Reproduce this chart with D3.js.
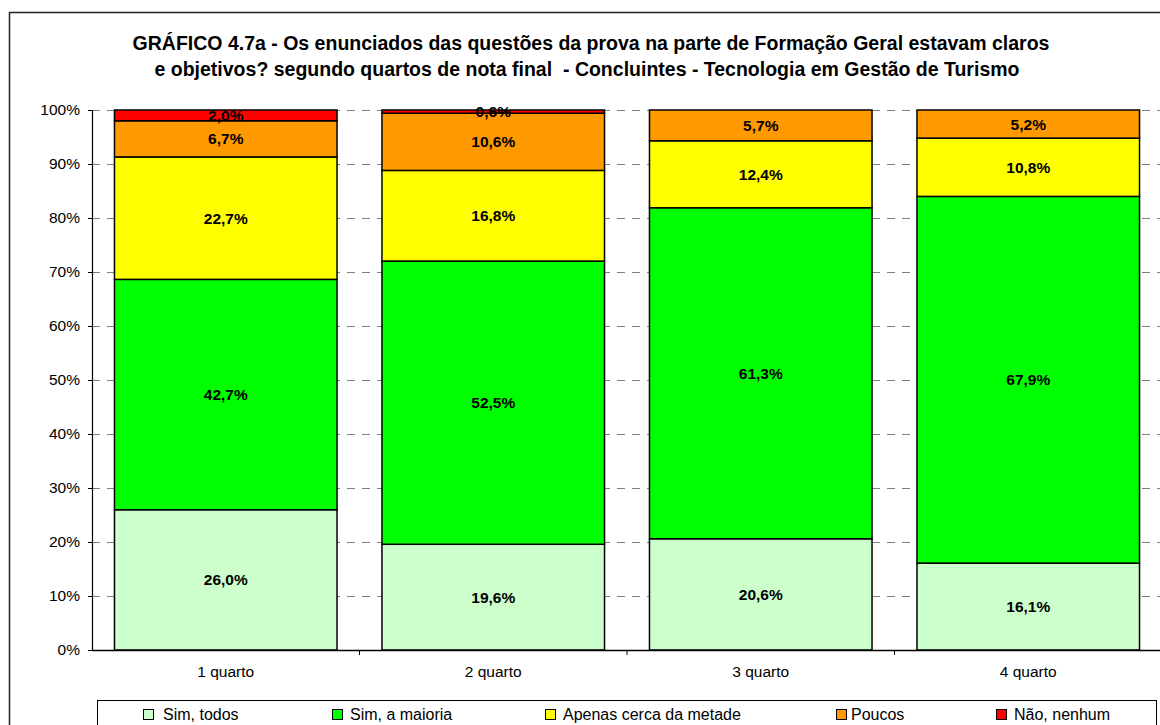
<!DOCTYPE html>
<html>
<head>
<meta charset="utf-8">
<script src="https://cdn.jsdelivr.net/npm/d3@7"></script>
<style>
  html, body { margin: 0; padding: 0; background: #fff; }
  svg { display: block; font-family: "Liberation Sans", Arial, sans-serif; }
</style>
</head>
<body>
<svg id="chart" width="1160" height="725"></svg>
<script>
// ---- Data ----
const categories = ["1 quarto", "2 quarto", "3 quarto", "4 quarto"];
const seriesNames = ["Sim, todos", "Sim, a maioria", "Apenas cerca da metade", "Poucos", "Não, nenhum"];
const seriesColors = ["#CCFFCC", "#00FF00", "#FFFF00", "#FF9900", "#FF0000"];
const simTodos = [26.0, 19.6, 20.6, 16.1];
const simMaioria = [42.7, 52.5, 61.3, 67.9];
const apenasMetade = [22.7, 16.8, 12.4, 10.8];
const poucos = [6.7, 10.6, 5.7, 5.2];
const naoNenhum = [2.0, 0.6, 0.0, 0.0];
const yTicks = [0, 10, 20, 30, 40, 50, 60, 70, 80, 90, 100];
const titleLines = [
  "GRÁFICO 4.7a - Os enunciados das questões da prova na parte de Formação Geral estavam claros",
  "e objetivos? segundo quartos de nota final  - Concluintes - Tecnologia em Gestão de Turismo"
];

const seriesValues = [simTodos, simMaioria, apenasMetade, poucos, naoNenhum];

// rows for stack (normalized to 100%)
const rows = categories.map((c, i) => {
  const total = d3.sum(seriesValues, s => s[i]);
  const r = { cat: c };
  seriesNames.forEach((n, k) => { r[n] = seriesValues[k][i] / total * 100; r[n + "_raw"] = seriesValues[k][i]; });
  return r;
});

const svg = d3.select("#chart");

// outer border
svg.append("rect").attr("x", 9.5).attr("y", 12.5).attr("width", 1170).attr("height", 730)
  .attr("fill", "none").attr("stroke", "#222").attr("stroke-width", 1.5);

// title
const title = svg.append("text").attr("text-anchor", "middle")
  .attr("font-size", 19.5).attr("font-weight", "bold").attr("fill", "#000")
  .style("white-space", "pre");
title.append("tspan").attr("x", 591).attr("y", 50).text(titleLines[0]);
title.append("tspan").attr("x", 587).attr("y", 76).text(titleLines[1]);

// scales
const x = d3.scaleBand().domain(categories).range([92, 1162]).paddingInner(0.168).paddingOuter(0.084);
const y = d3.scaleLinear().domain([0, 100]).range([650, 110]);

// gridlines
svg.append("g").selectAll("line").data(yTicks.filter(t => t > 0)).join("line")
  .attr("x1", 92).attr("x2", 1162)
  .attr("y1", d => Math.round(y(d)) + 0.5).attr("y2", d => Math.round(y(d)) + 0.5)
  .attr("stroke", "#808080").attr("stroke-width", 1.2).attr("stroke-dasharray", "8,7");

// stacked bars
const stack = d3.stack().keys(seriesNames);
const stacked = stack(rows);

const groups = svg.append("g").selectAll("g").data(stacked).join("g")
  .attr("fill", (d, i) => seriesColors[i]);

groups.selectAll("rect").data(d => d.filter(p => p[1] - p[0] > 0)).join("rect")
  .attr("x", d => x(d.data.cat))
  .attr("width", x.bandwidth())
  .attr("y", d => y(d[1]))
  .attr("height", d => y(d[0]) - y(d[1]))
  .attr("stroke", "#000").attr("stroke-width", 1.5);

// labels
const fmt = v => v.toFixed(1).replace(".", ",") + "%";
stacked.forEach((layer, k) => {
  svg.append("g").selectAll("text").data(layer.filter(p => p.data[seriesNames[k] + "_raw"] > 0)).join("text")
    .attr("x", d => x(d.data.cat) + x.bandwidth() / 2)
    .attr("y", d => (y(d[0]) + y(d[1])) / 2 + 5.5)
    .attr("text-anchor", "middle").attr("font-size", 15.5).attr("font-weight", "bold").attr("fill", "#000")
    .text(d => fmt(d.data[seriesNames[k] + "_raw"]));
});

// y axis
const yAxis = d3.axisLeft(y).tickValues(yTicks).tickFormat(d => d + "%").tickSize(4).tickPadding(8);
const gy = svg.append("g").attr("transform", "translate(92,0)").call(yAxis);
gy.select(".domain").attr("stroke", "#000").attr("stroke-width", 1.2).attr("d", "M0.5,110V650.5");
gy.selectAll(".tick line").attr("stroke", "#000");
gy.selectAll(".tick text").attr("font-size", 15.5).attr("font-family", "Liberation Sans, Arial, sans-serif").attr("fill", "#000");

// x axis
const gx = svg.append("g").attr("transform", "translate(0,650)");
gx.append("line").attr("x1", 92).attr("x2", 1162).attr("y1", 0.5).attr("y2", 0.5).attr("stroke", "#000").attr("stroke-width", 1.5);
const bounds = categories.map(c => x(c) - x.step() * x.paddingInner() / 2);
gx.selectAll("line.tk").data(bounds.slice(1)).join("line").attr("class", "tk")
  .attr("x1", d => d).attr("x2", d => d).attr("y1", 0).attr("y2", 5).attr("stroke", "#000");
gx.selectAll("text").data(categories).join("text")
  .attr("x", d => x(d) + x.bandwidth() / 2).attr("y", 27)
  .attr("text-anchor", "middle").attr("font-size", 15.5).attr("fill", "#000").text(d => d);

// legend
const lg = svg.append("g");
lg.append("rect").attr("x", 97.5).attr("y", 700.5).attr("width", 1059).attr("height", 40)
  .attr("fill", "#fff").attr("stroke", "#000").attr("stroke-width", 1);
const legendX = [143, 332, 545, 836, 996];
const legendTextGap = [20, 18, 18, 15, 18];
const li = lg.selectAll("g").data(seriesNames).join("g")
  .attr("transform", (d, i) => `translate(${legendX[i]},0)`);
li.append("rect").attr("x", 0.5).attr("y", 709.5).attr("width", 10).attr("height", 10)
  .attr("fill", (d, i) => seriesColors[i]).attr("stroke", "#000").attr("stroke-width", 1);
li.append("text").attr("x", (d, i) => legendTextGap[i]).attr("y", 720)
  .attr("font-size", 16).attr("fill", "#000").text(d => d);
</script>
</body>
</html>
